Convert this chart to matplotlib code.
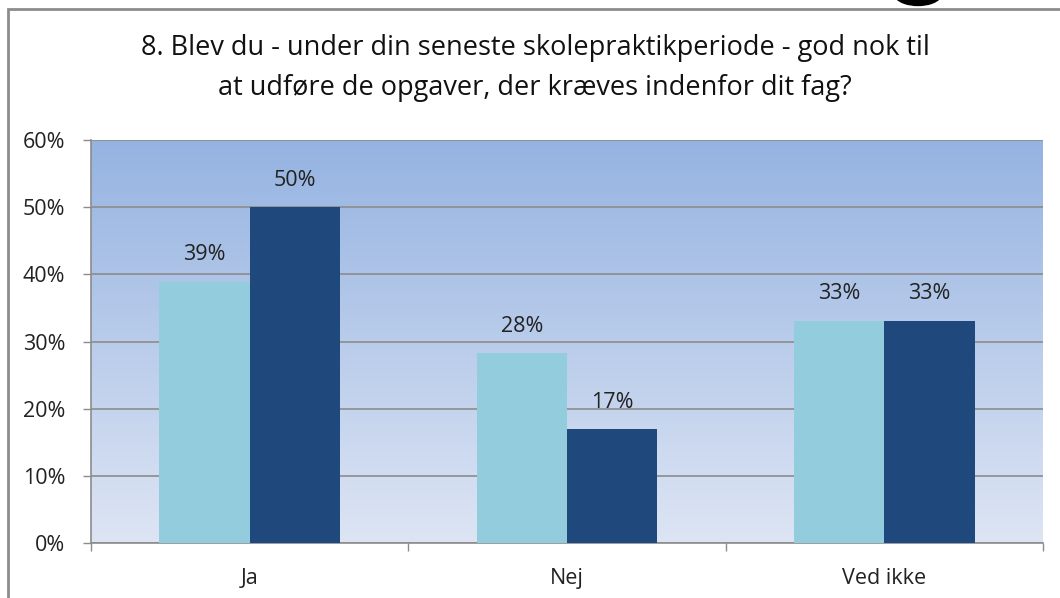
import numpy as np
import matplotlib
matplotlib.use("Agg")
import matplotlib.pyplot as plt
import matplotlib.ticker as ticker
from matplotlib.colors import LinearSegmentedColormap
from matplotlib.patches import Rectangle, Arc

plt.rcParams['font.family'] = ['Open Sans', 'DejaVu Sans']

categories = ["Ja", "Nej", "Ved ikke"]
series_a = [38.9, 28.3, 33.1]
series_b = [50.0, 16.9, 33.1]
labels_a = ["39%", "28%", "33%"]
labels_b = ["50%", "17%", "33%"]
title = ("8. Blev du - under din seneste skolepraktikperiode - god nok til\n"
         "at udføre de opgaver, der kræves indenfor dit fag?")

fig = plt.figure(figsize=(10.6, 5.98), dpi=100)
ax = fig.add_axes([91/1060, 55/598, (1043-91)/1060, (543-140)/598])

# gradient background
cmap = LinearSegmentedColormap.from_list("bg", ["#dde5f4", "#95b3e1"])
grad = np.linspace(0, 1, 256).reshape(-1, 1)
ax.imshow(grad, aspect='auto', cmap=cmap, origin='lower',
          extent=[-0.5, 2.5, 0, 60], zorder=0)

x = np.arange(len(categories))
w = 0.285
ax.bar(x - w/2, series_a, width=w, color="#93cddd", zorder=3)
ax.bar(x + w/2, series_b, width=w, color="#1f497d", zorder=3)

for xi, v, t in zip(x - w/2, series_a, labels_a):
    ax.text(xi, v + 4.0, t, ha='center', va='center', fontsize=15.5, color='#222222', zorder=4)
for xi, v, t in zip(x + w/2, series_b, labels_b):
    ax.text(xi, v + 4.0, t, ha='center', va='center', fontsize=15.5, color='#222222', zorder=4)

ax.set_xlim(-0.5, 2.5)
ax.set_ylim(0, 60)
ax.yaxis.set_major_locator(ticker.MultipleLocator(10))
ax.yaxis.set_major_formatter(ticker.FuncFormatter(lambda v, p: f"{int(v)}%"))
ax.set_xticks(x)
ax.set_xticklabels(categories)
ax.set_xticks([-0.5, 0.5, 1.5, 2.5], minor=True)
ax.tick_params(axis='x', which='major', length=0, labelsize=15.5, pad=18, colors='#222222')
ax.tick_params(axis='x', which='minor', length=6, color='#8c8c8c', width=1)
ax.tick_params(axis='y', length=6, color='#8c8c8c', width=1, labelsize=15.5,
               labelcolor='#222222', pad=12.5)

ax.grid(axis='y', color='#8c8c8c', linewidth=1.2, zorder=1)
ax.set_axisbelow(True)
for s in ['top', 'right']:
    ax.spines[s].set_visible(False)
for s in ['left', 'bottom']:
    ax.spines[s].set_color('#8c8c8c')
    ax.spines[s].set_linewidth(1.2)

fig.text(535/1060, 1 - 68/598, title, ha='center', va='center', fontsize=19.5,
         linespacing=1.6, color='#111111')

# outer chart frame
fig.patches.append(Rectangle((8/1060, -0.05), 1.1, 1 - 9/598 + 0.05,
                             transform=fig.transFigure, fill=False,
                             edgecolor='#8c8c8c', linewidth=2))
# bottom of a large glyph cut off at the top edge
fig.patches.append(Arc((918/1060, 1 + 8/598), 42/1060, 20/598, theta1=195, theta2=345,
                       transform=fig.transFigure, color='black', linewidth=6))

fig.savefig("out.png", dpi=100)
